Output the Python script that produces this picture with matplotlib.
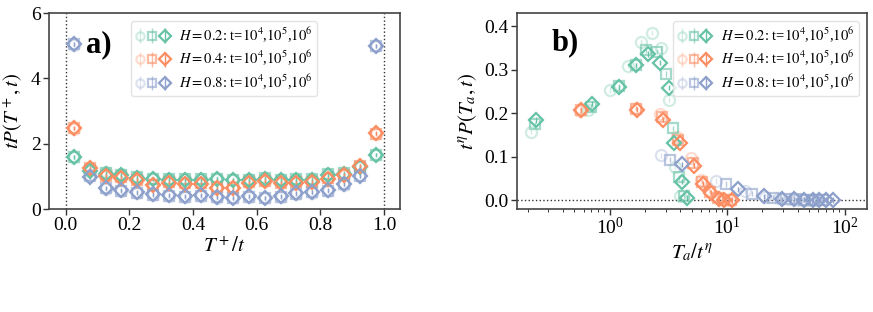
import numpy as np
import matplotlib
matplotlib.use("Agg")
import matplotlib.pyplot as plt
from matplotlib.legend_handler import HandlerTuple

plt.rcParams['font.family'] = 'serif'
plt.rcParams['font.serif'] = ['Liberation Serif', 'DejaVu Serif']
plt.rcParams['mathtext.fontset'] = 'stix'

colors = {'0.2': '#66c2a5', '0.4': '#fc8d62', '0.8': '#8da0cb'}
H_labels = ['0.2', '0.4', '0.8']
t_labels = ['1e4', '1e5', '1e6']
markers = ['o', 's', 'D']
alphas = [0.3, 0.6, 1.0]

# ---------------- panel a data ----------------
xa = [0.025, 0.075, 0.125, 0.175, 0.225, 0.275, 0.325, 0.375, 0.425, 0.475,
      0.525, 0.575, 0.625, 0.675, 0.725, 0.775, 0.825, 0.875, 0.925, 0.975]

a_H02_t4 = [1.58, 1.22, 1.12, 1.06, 0.98, 0.94, 0.93, 0.93, 0.93, 0.94,
            0.91, 0.91, 0.96, 0.91, 0.93, 0.93, 1.08, 1.11, 1.31, 1.65]
a_H02_t5 = [1.60, 1.20, 1.10, 1.05, 0.97, 0.93, 0.92, 0.91, 0.92, 0.93,
            0.90, 0.89, 0.95, 0.90, 0.91, 0.92, 1.07, 1.10, 1.30, 1.66]
a_H02_t6 = [1.59, 1.18, 1.08, 1.03, 0.95, 0.91, 0.90, 0.90, 0.90, 0.92,
            0.88, 0.88, 0.93, 0.88, 0.90, 0.90, 1.05, 1.08, 1.29, 1.67]

a_H04_t4 = [2.46, 1.25, 1.03, 0.98, 0.90, 0.77, 0.83, 0.80, 0.80, 0.67,
            0.67, 0.83, 0.86, 0.82, 0.83, 0.85, 0.95, 1.04, 1.31, 2.30]
a_H04_t5 = [2.47, 1.26, 1.02, 0.97, 0.89, 0.75, 0.82, 0.79, 0.79, 0.66,
            0.65, 0.82, 0.85, 0.81, 0.82, 0.84, 0.94, 1.03, 1.32, 2.31]
a_H04_t6 = [2.48, 1.27, 1.01, 0.96, 0.88, 0.74, 0.81, 0.78, 0.78, 0.64,
            0.64, 0.81, 0.85, 0.80, 0.81, 0.83, 0.93, 1.03, 1.32, 2.32]

a_H08_t4 = [5.03, 1.05, 0.62, 0.54, 0.49, 0.43, 0.40, 0.37, 0.40, 0.35,
            0.33, 0.37, 0.33, 0.37, 0.46, 0.50, 0.55, 0.75, 1.03, 4.98]
a_H08_t5 = [5.04, 1.02, 0.63, 0.55, 0.50, 0.44, 0.41, 0.38, 0.41, 0.36,
            0.34, 0.38, 0.34, 0.38, 0.47, 0.51, 0.56, 0.76, 1.01, 4.99]
a_H08_t6 = [5.05, 0.98, 0.65, 0.57, 0.52, 0.45, 0.42, 0.39, 0.43, 0.37,
            0.35, 0.39, 0.35, 0.39, 0.49, 0.53, 0.57, 0.78, 1.00, 5.00]

a_err = 0.06

# ---------------- panel b data ----------------
b_H02_t4_x = [0.213, 0.65, 1.01, 1.43, 1.86, 2.31, 2.75, 3.18, 3.57, 3.99]
b_H02_t4_y = [0.157, 0.207, 0.253, 0.309, 0.364, 0.385, 0.349, 0.231, 0.077, 0.009]
b_H02_t5_x = [0.233, 0.70, 1.19, 1.68, 2.04, 2.53, 3.02, 3.46, 3.89, 4.30]
b_H02_t5_y = [0.174, 0.215, 0.262, 0.310, 0.345, 0.341, 0.290, 0.165, 0.052, 0.010]
b_H02_t6_x = [0.238, 0.71, 1.19, 1.69, 2.13, 2.67, 3.20, 3.53, 4.13, 4.55]
b_H02_t6_y = [0.184, 0.222, 0.259, 0.310, 0.336, 0.316, 0.258, 0.132, 0.042, 0.005]

b_H04_t4_x = [0.56, 1.66, 2.70, 3.75, 4.95, 6.00, 7.05, 8.2, 9.2, 10.5]
b_H04_t4_y = [0.205, 0.212, 0.198, 0.145, 0.096, 0.046, 0.022, 0.006, 0.002, 0.001]
b_H04_t5_x = [0.57, 1.69, 2.78, 3.85, 5.08, 6.12, 7.2, 8.35, 9.35, 10.8]
b_H04_t5_y = [0.206, 0.210, 0.190, 0.138, 0.085, 0.042, 0.019, 0.004, 0.001, 0.000]
b_H04_t6_x = [0.574, 1.72, 2.84, 3.94, 5.19, 6.23, 7.33, 8.5, 9.5, 11.0]
b_H04_t6_y = [0.207, 0.208, 0.185, 0.132, 0.079, 0.038, 0.017, 0.003, 0.000, 0.000]

b_H08_t4_x = [2.72, 8.1, 14.1, 21.0, 27.5, 33.5, 39.5, 45.0, 50.5, 56.0]
b_H08_t4_y = [0.103, 0.044, 0.020, 0.008, 0.004, 0.002, 0.001, 0.001, 0.000, 0.000]
b_H08_t5_x = [3.24, 9.7, 16.4, 24.6, 31.5, 38.5, 45.5, 52.5, 59.0, 65.5]
b_H08_t5_y = [0.093, 0.037, 0.015, 0.005, 0.003, 0.002, 0.001, 0.000, 0.000, 0.000]
b_H08_t6_x = [4.13, 12.4, 20.8, 29.5, 36.8, 44.8, 53.7, 61.2, 69.8, 79.5]
b_H08_t6_y = [0.082, 0.025, 0.009, 0.002, 0.002, 0.001, 0.001, 0.000, 0.000, 0.000]

b_err = 0.006

panel_a = {
    '0.2': [a_H02_t4, a_H02_t5, a_H02_t6],
    '0.4': [a_H04_t4, a_H04_t5, a_H04_t6],
    '0.8': [a_H08_t4, a_H08_t5, a_H08_t6],
}
panel_b = {
    '0.2': [(b_H02_t4_x, b_H02_t4_y), (b_H02_t5_x, b_H02_t5_y), (b_H02_t6_x, b_H02_t6_y)],
    '0.4': [(b_H04_t4_x, b_H04_t4_y), (b_H04_t5_x, b_H04_t5_y), (b_H04_t6_x, b_H04_t6_y)],
    '0.8': [(b_H08_t4_x, b_H08_t4_y), (b_H08_t5_x, b_H08_t5_y), (b_H08_t6_x, b_H08_t6_y)],
}

fig = plt.figure(figsize=(8.73, 3.12), dpi=100)
axa = fig.add_axes([0.056, 0.330, 0.402, 0.628])
axb = fig.add_axes([0.592, 0.330, 0.401, 0.628])

ms_list = [8, 7.5, 7.5]
mew = 1.6

def style_axes(ax):
    for sp in ax.spines.values():
        sp.set_color('#444444')
        sp.set_linewidth(1.2)
    ax.tick_params(axis='both', which='major', direction='out', length=4,
                   width=1.0, color='#333333', labelsize=14, pad=2)
    ax.tick_params(axis='both', which='minor', direction='out', length=2.2,
                   width=0.7, color='#333333')

def make_legend(ax, handles, labels, **kw):
    leg = ax.legend(handles, labels,
                    handler_map={tuple: HandlerTuple(ndivide=None, pad=0.2)},
                    fontsize=10.5, handlelength=2.3, handletextpad=0.7,
                    markerscale=0.75,
                    borderpad=0.3, labelspacing=0.32, borderaxespad=0.55,
                    frameon=True, fancybox=True, **kw)
    leg.get_frame().set_edgecolor('#dddddd')
    return leg

# panel a
handles_a = []
labels_a = []
for H in H_labels:
    hs = []
    for k in range(3):
        c = colors[H]
        eb = axa.errorbar(xa, panel_a[H][k], yerr=a_err, fmt=markers[k], ms=ms_list[k],
                          mfc='none', mec=c, mew=mew, ecolor=c, elinewidth=1.0,
                          alpha=alphas[k], zorder=2 + k)
        hs.append(eb)
    handles_a.append(tuple(hs))
    labels_a.append(r'$H=%s$: t=$10^4$,$10^5$,$10^6$' % H)

axa.axvline(0, color='#333333', ls=':', lw=1.0, zorder=1)
axa.axvline(1, color='#333333', ls=':', lw=1.0, zorder=1)
axa.set_xlim(-0.053, 1.05)
axa.set_ylim(0, 6)
axa.set_xticks([0.0, 0.2, 0.4, 0.6, 0.8, 1.0])
axa.set_xticklabels(['0.0', '0.2', '0.4', '0.6', '0.8', '1.0'])
axa.set_yticks([0, 2, 4, 6])
style_axes(axa)
axa.set_xlabel(r'$T^+/t$', fontsize=15, labelpad=2)
axa.set_ylabel(r'$tP(T^+,t)$', fontsize=15, labelpad=4)
axa.text(0.105, 0.84, 'a)', transform=axa.transAxes, fontsize=22,
         fontweight='bold', va='center', ha='left')
make_legend(axa, handles_a, labels_a, loc='upper center', bbox_to_anchor=(0.5, 1.0))

# panel b
handles_b = []
labels_b = []
for H in H_labels:
    hs = []
    for k in range(3):
        c = colors[H]
        x, y = panel_b[H][k]
        eb = axb.errorbar(x, y, yerr=b_err, fmt=markers[k], ms=ms_list[k],
                          mfc='none', mec=c, mew=mew, ecolor=c, elinewidth=1.0,
                          alpha=alphas[k], zorder=2 + k)
        hs.append(eb)
    handles_b.append(tuple(hs))
    labels_b.append(r'$H=%s$: t=$10^4$,$10^5$,$10^6$' % H)

axb.axhline(0, color='#333333', ls=':', lw=1.0, zorder=1)
axb.set_xscale('log')
axb.set_xlim(0.162, 155)
axb.set_ylim(-0.0207, 0.43)
axb.set_yticks([0.0, 0.1, 0.2, 0.3, 0.4])
axb.set_yticklabels(['0.0', '0.1', '0.2', '0.3', '0.4'])
style_axes(axb)
axb.set_xlabel(r'$T_a/t^{\eta}$', fontsize=15, labelpad=2)
axb.set_ylabel(r'$t^{\eta}P(T_a,t)$', fontsize=15, labelpad=4)
axb.text(0.10, 0.85, 'b)', transform=axb.transAxes, fontsize=22,
         fontweight='bold', va='center', ha='left')
make_legend(axb, handles_b, labels_b, loc='upper right', bbox_to_anchor=(1.0, 1.0))

fig.savefig('out.png', dpi=100)
